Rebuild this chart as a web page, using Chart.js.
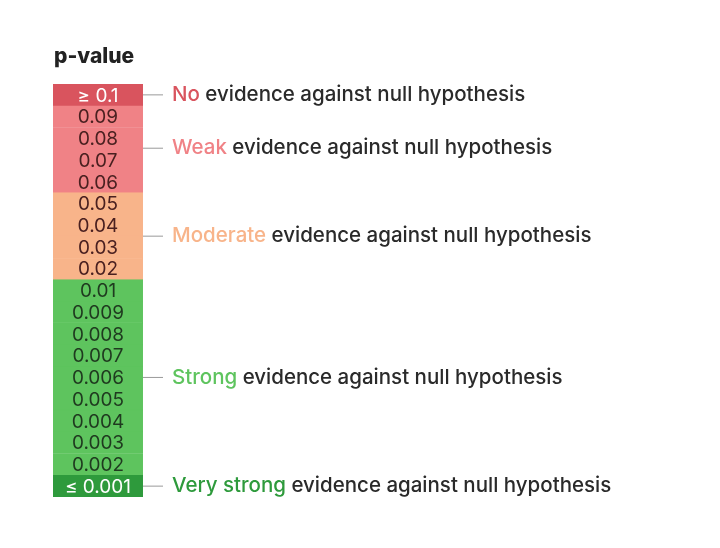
<!DOCTYPE html>
<html>
<head>
<meta charset="utf-8">
<script src="https://cdn.jsdelivr.net/npm/chart.js@4"></script>
<style>body{margin:0;background:#fff}</style>
</head>
<body>
<canvas id="grafico" width="720" height="548"></canvas>
<script>
// tabla de p-valores, de arriba a abajo
const etiquetas = ["≥ 0.1","0.09","0.08","0.07","0.06","0.05","0.04","0.03","0.02","0.01","0.009","0.008","0.007","0.006","0.005","0.004","0.003","0.002","≤ 0.001"];
const grupoDeFila = [0,1,1,1,1,2,2,2,2,3,3,3,3,3,3,3,3,3,4];
const grupoNombre = ["No","Weak","Moderate","Strong","Very strong"];
const grupoColor = ["#d9545e","#f08286","#f8b48a","#5ec45e","#2e9a3c"];
const grupoTexto = ["#d9545e","#f08286","#f8b48a","#5ec45e","#2e9a3c"];
const textoFila = ["#fff","#4a2020","#4a2020","#1f3a1f","#fff"];
const resto = " evidence against null hypothesis";

const valores = etiquetas.map(() => 1);

const dibujar = {
  id: "dibujar",
  afterDraw(chart){
    const c = chart.ctx;
    const y = chart.scales.y, x = chart.scales.x;
    const x0 = x.getPixelForValue(0), x1 = x.getPixelForValue(1);
    c.save();
    c.textBaseline = "middle";
    // titulo
    c.fillStyle = "#222";
    c.font = "800 21px Inter, 'Noto Sans', sans-serif";
    c.textAlign = "left";
    c.fillText("p-value", 54, 57);
    // texto en las filas
    c.font = "19px Inter, 'Noto Sans', sans-serif";
    c.textAlign = "center";
    etiquetas.forEach((e,i) => {
      c.fillStyle = textoFila[grupoDeFila[i]];
      c.fillText(e, (x0+x1)/2, y.getPixelForValue(i)+1);
    });
    // anotaciones por grupo
    c.textAlign = "left";
    c.font = "500 20.5px Inter, 'Noto Sans', sans-serif";
    for(let g=0; g<grupoNombre.length; g++){
      let filas = [];
      grupoDeFila.forEach((v,i) => { if(v==g) filas.push(i); });
      let yy = (y.getPixelForValue(filas[0]) + y.getPixelForValue(filas[filas.length-1]))/2;
      if(g==1) yy = y.getPixelForValue(2.5) - 1;
      c.strokeStyle = "#999";
      c.lineWidth = 1;
      c.beginPath(); c.moveTo(x1, yy); c.lineTo(x1+20, yy); c.stroke();
      c.fillStyle = grupoTexto[g];
      c.fillText(grupoNombre[g], x1+29, yy);
      const w = c.measureText(grupoNombre[g]).width;
      c.fillStyle = "#2a2a2a";
      c.fillText(resto, x1+29+w, yy);
    }
    c.restore();
  }
};

const colores = grupoDeFila.map(g => grupoColor[g]);

new Chart(document.getElementById("grafico"), {
  type: "bar",
  data: {
    labels: etiquetas,
    datasets: [{
      data: valores,
      backgroundColor: colores,
      borderColor: colores,
      borderWidth: 0.6,
      barPercentage: 1,
      categoryPercentage: 1
    }]
  },
  options: {
    indexAxis: "y",
    responsive: false,
    animation: false,
    layout: { padding: { left: 53, right: 577, top: 84, bottom: 51 } },
    plugins: { legend: { display: false }, tooltip: { enabled: false } },
    scales: {
      x: { display: false, min: 0, max: 1 },
      y: { display: false }
    }
  },
  plugins: [dibujar]
});
</script>
</body>
</html>
